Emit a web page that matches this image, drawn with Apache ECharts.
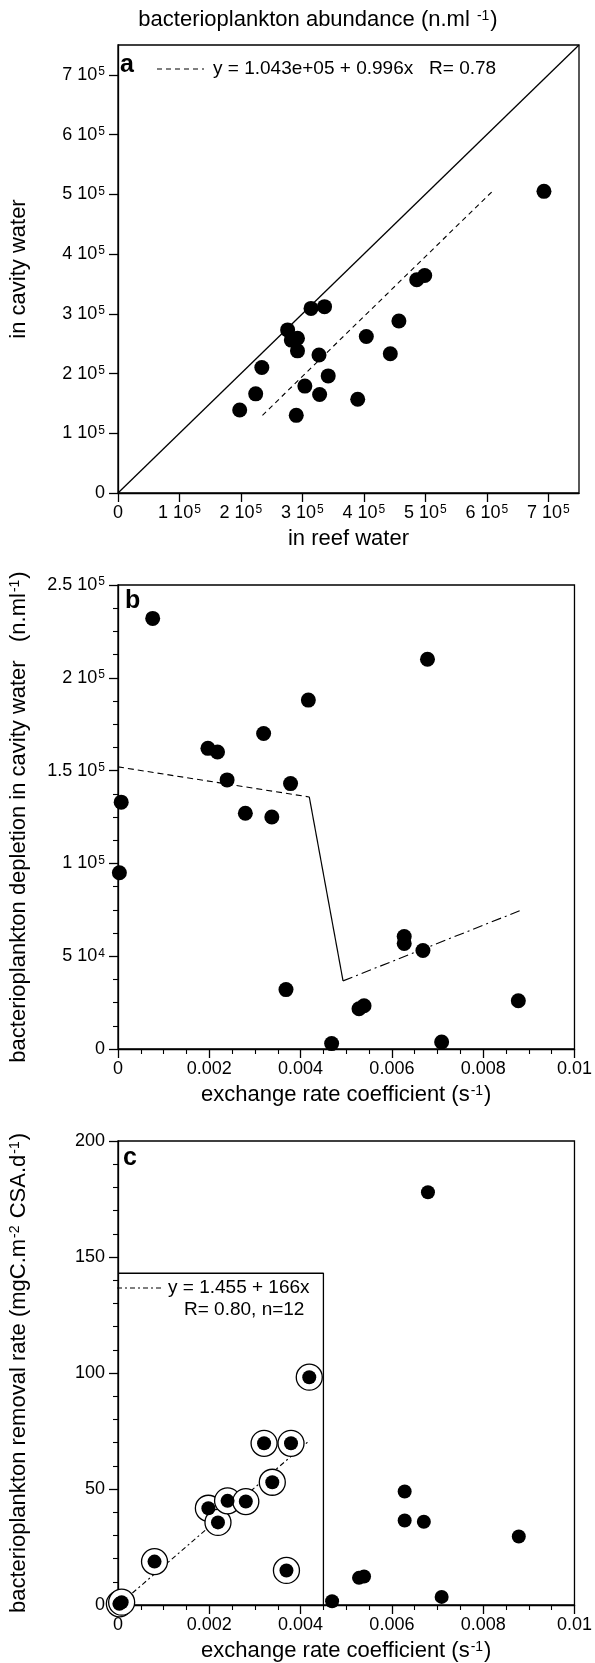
<!DOCTYPE html>
<html>
<head>
<meta charset="utf-8">
<script src="https://cdn.jsdelivr.net/npm/echarts@6/dist/echarts.min.js"></script>
<style>
  html, body { margin: 0; padding: 0; background: #fff; }
  #div_chart { width: 595px; height: 1663px; }
</style>
</head>
<body>
<div id="div_chart"></div>
<script>
"use strict";

//
// Data
//
// panel a: bacterioplankton abundance, reef water (x) vs cavity water (y)
const a_reef = [1.98e5, 2.24e5, 2.34e5, 2.76e5, 2.82e5, 2.92e5, 2.92e5, 2.90e5, 3.04e5, 3.14e5, 3.36e5,
  3.27e5, 3.28e5, 3.42e5, 3.90e5, 4.04e5, 4.43e5, 4.57e5, 4.86e5, 4.99e5, 6.93e5];
const a_cavity = [1.39e5, 1.66e5, 2.10e5, 2.73e5, 2.56e5, 2.59e5, 2.38e5, 1.30e5, 1.79e5, 3.09e5, 3.12e5,
  2.31e5, 1.65e5, 1.96e5, 1.57e5, 2.62e5, 2.33e5, 2.88e5, 3.57e5, 3.64e5, 5.05e5];
const a_fit_x = [2.35e5, 6.10e5];
const a_fit_y = [1.30e5, 5.06e5];
const a_one_x = [0, 7.5e5];
const a_one_y = [0, 7.5e5];
const a_tick_vals = [0, 1e5, 2e5, 3e5, 4e5, 5e5, 6e5, 7e5];
const a_tick_labels = ["0", "1 10^5", "2 10^5", "3 10^5", "4 10^5", "5 10^5", "6 10^5", "7 10^5"];

// panel b: depletion vs exchange rate coefficient
const b_rate = [0.00076, 0.00007, 0.00003, 0.00197, 0.00218, 0.00239, 0.00279, 0.00319, 0.00337, 0.00378, 0.00368,
  0.00417, 0.00468, 0.00528, 0.00539, 0.00627, 0.00627, 0.00668, 0.00678, 0.00709, 0.00877];
const b_depletion = [2.32e5, 1.33e5, 0.95e5, 1.62e5, 1.60e5, 1.45e5, 1.27e5, 1.70e5, 1.25e5, 1.43e5, 0.32e5,
  1.88e5, 0.029e5, 0.217e5, 0.233e5, 0.606e5, 0.569e5, 0.531e5, 2.10e5, 0.038e5, 0.26e5];
const b_fit1_x = [0, 0.00419];
const b_fit1_y = [1.52e5, 1.358e5];
const b_fit2_x = [0.00419, 0.00493];
const b_fit2_y = [1.358e5, 0.367e5];
const b_fit3_x = [0.00493, 0.00883];
const b_fit3_y = [0.367e5, 0.748e5];
const b_ytick_vals = [0, 5e4, 1e5, 1.5e5, 2e5, 2.5e5];
const b_ytick_labels = ["0", "5 10^4", "1 10^5", "1.5 10^5", "2 10^5", "2.5 10^5"];

// panel c: removal rate vs exchange rate coefficient (circled = used in fit)
const c_fit_rate = [0.00003, 0.00008, 0.00080, 0.00198, 0.00219, 0.00240, 0.00280, 0.00320, 0.00338, 0.00379, 0.00369, 0.00419];
const c_fit_removal = [0.5, 1.2, 18.7, 41.7, 35.6, 44.9, 44.6, 69.7, 52.9, 69.7, 14.9, 98.2];
const c_other_rate = [0.00469, 0.00528, 0.00539, 0.00628, 0.00628, 0.00670, 0.00679, 0.00709, 0.00878];
const c_other_removal = [1.6, 11.7, 12.3, 48.9, 36.4, 35.9, 177.9, 3.5, 29.5];
const c_fit_x = [0.0001, 0.0042];
const c_fit_y = [1.5, 71];
const c_box_x = [0, 0.0045, 0.0045];
const c_box_y = [143, 143, 0];
const c_ytick_vals = [0, 50, 100, 150, 200];
const c_ytick_labels = ["0", "50", "100", "150", "200"];

// shared x axis of b and c
const rate_tick_vals = [0, 0.002, 0.004, 0.006, 0.008, 0.01];
const rate_tick_labels = ["0", "0.002", "0.004", "0.006", "0.008", "0.01"];

//
// Helpers
//
const FONT = "'Liberation Sans', Arial, Helvetica, sans-serif";

function zip(xs, ys) {
  return xs.map((x, i) => [x, ys[i]]);
}

// "7 10^5" -> rich text with superscript
function tick_formatter(vals, labels) {
  return function (v) {
    const i = vals.findIndex(t => Math.abs(t - v) < 1e-9 * Math.max(1, Math.abs(t)));
    if (i < 0) return "";
    const parts = labels[i].split("^");
    if (parts.length === 1) return "{n|" + parts[0] + "}";
    return "{n|" + parts[0] + "}{s|" + parts[1] + "}";
  };
}

const rich_tick = {
  n: { fontSize: 18, fontFamily: FONT, color: "#000" },
  s: { fontSize: 12, fontFamily: FONT, color: "#000", verticalAlign: "top", padding: [0, 0, 0, 1] },
};
const rich_name = {
  t: { fontSize: 22, fontFamily: FONT, color: "#000" },
  s: { fontSize: 14, fontFamily: FONT, color: "#000", verticalAlign: "top", padding: [0, 1, 0, 1] },
};

function make_axis(grid, min, max, interval, vals, labels, minor, extra) {
  return Object.assign({
    type: "value",
    gridIndex: grid,
    min: min,
    max: max,
    interval: interval,
    axisLine: { show: true, onZero: false, lineStyle: { color: "#000", width: 1.3 } },
    axisTick: { show: true, inside: false, length: 9, customValues: vals, lineStyle: { color: "#000", width: 1.3 } },
    minorTick: { show: minor > 0, splitNumber: minor || 5, length: 5, lineStyle: { color: "#000", width: 1.1 } },
    axisLabel: {
      show: true,
      customValues: vals,
      formatter: tick_formatter(vals, labels),
      rich: rich_tick,
      margin: 13,
    },
    splitLine: { show: false },
    minorSplitLine: { show: false },
    nameLocation: "middle",
    nameTextStyle: { rich: rich_name, fontSize: 22, fontFamily: FONT, color: "#000" },
  }, extra);
}

function x_label(vals, labels) {
  return { customValues: vals, formatter: tick_formatter(vals, labels), rich: rich_tick, margin: 11 };
}

//
// Chart
//
const chart = echarts.init(document.getElementById("div_chart"), null, { renderer: "canvas" });

const grid_style = { show: true, borderColor: "#000", borderWidth: 1.3, backgroundColor: "transparent" };
const dot_style = { color: "#000", opacity: 1 };

chart.setOption({
  animation: false,
  backgroundColor: "#fff",
  textStyle: { fontFamily: FONT },
  grid: [
    Object.assign({ left: 117, top: 45, width: 462, height: 448 }, grid_style),
    Object.assign({ left: 117, top: 585, width: 463, height: 464 }, grid_style),
    Object.assign({ left: 117, top: 1141, width: 463, height: 464 }, grid_style),
  ],
  xAxis: [
    make_axis(0, 0, 7.5e5, 1e5, a_tick_vals, a_tick_labels, 0,
      { name: "{t|in reef water}", nameGap: 35, axisLabel: x_label(a_tick_vals, a_tick_labels) }),
    make_axis(1, 0, 0.01, 0.002, rate_tick_vals, rate_tick_labels, 4,
      { name: "{t|exchange rate coefficient (s}{s|-1}{t|)}", nameGap: 35, axisLabel: x_label(rate_tick_vals, rate_tick_labels) }),
    make_axis(2, 0, 0.01, 0.002, rate_tick_vals, rate_tick_labels, 4,
      { name: "{t|exchange rate coefficient (s}{s|-1}{t|)}", nameGap: 35, axisLabel: x_label(rate_tick_vals, rate_tick_labels) }),
  ],
  yAxis: [
    make_axis(0, 0, 7.5e5, 1e5, a_tick_vals, a_tick_labels, 0,
      { name: "{t|in cavity water}", nameGap: 88, nameRotate: 90 }),
    make_axis(1, 0, 2.5e5, 5e4, b_ytick_vals, b_ytick_labels, 4,
      { name: "{t|bacterioplankton depletion in cavity water   (n.ml}{s|-1}{t|)}", nameGap: 88, nameRotate: 90 }),
    make_axis(2, 0, 200, 50, c_ytick_vals, c_ytick_labels, 5,
      { name: "{t|bacterioplankton removal rate (mgC.m}{s|-2}{t| CSA.d}{s|-1}{t|)}", nameGap: 88, nameRotate: 90 }),
  ],
  series: [
    // panel a
    {
      type: "line", xAxisIndex: 0, yAxisIndex: 0, data: zip(a_one_x, a_one_y), symbol: "none",
      lineStyle: { color: "#000", width: 1.3 }, z: 2,
    },
    {
      type: "line", xAxisIndex: 0, yAxisIndex: 0, data: zip(a_fit_x, a_fit_y), symbol: "none",
      lineStyle: { color: "#000", width: 1.1, type: [5, 4] }, z: 2,
    },
    {
      type: "scatter", xAxisIndex: 0, yAxisIndex: 0, data: zip(a_reef, a_cavity), symbol: "circle",
      symbolSize: 15, itemStyle: dot_style, z: 3,
    },
    // panel b
    {
      type: "line", xAxisIndex: 1, yAxisIndex: 1, data: zip(b_fit1_x, b_fit1_y), symbol: "none",
      lineStyle: { color: "#000", width: 1.1, type: [6, 4] }, z: 2,
    },
    {
      type: "line", xAxisIndex: 1, yAxisIndex: 1, data: zip(b_fit2_x, b_fit2_y), symbol: "none",
      lineStyle: { color: "#000", width: 1.2 }, z: 2,
    },
    {
      type: "line", xAxisIndex: 1, yAxisIndex: 1, data: zip(b_fit3_x, b_fit3_y), symbol: "none",
      lineStyle: { color: "#000", width: 1.1, type: [10, 4, 2, 4] }, z: 2,
    },
    {
      type: "scatter", xAxisIndex: 1, yAxisIndex: 1, data: zip(b_rate, b_depletion), symbol: "circle",
      symbolSize: 15, itemStyle: dot_style, z: 3,
    },
    // panel c
    {
      type: "line", xAxisIndex: 2, yAxisIndex: 2, data: zip(c_box_x, c_box_y), symbol: "none",
      lineStyle: { color: "#000", width: 1.3 }, z: 2,
    },
    {
      type: "line", xAxisIndex: 2, yAxisIndex: 2, data: zip(c_fit_x, c_fit_y), symbol: "none",
      lineStyle: { color: "#000", width: 1.1, type: [5, 3, 2, 3] }, z: 2,
    },
    {
      type: "scatter", xAxisIndex: 2, yAxisIndex: 2, data: zip(c_fit_rate, c_fit_removal), symbol: "circle",
      symbolSize: 26, itemStyle: { color: "#fff", opacity: 1, borderColor: "#000", borderWidth: 1.3 }, z: 3,
    },
    {
      type: "scatter", xAxisIndex: 2, yAxisIndex: 2, data: zip(c_fit_rate, c_fit_removal), symbol: "circle",
      symbolSize: 14, itemStyle: dot_style, z: 4,
    },
    {
      type: "scatter", xAxisIndex: 2, yAxisIndex: 2, data: zip(c_other_rate, c_other_removal), symbol: "circle",
      symbolSize: 14, itemStyle: dot_style, z: 4,
    },
  ],
  graphic: [
    // figure title
    {
      type: "text", x: 318, y: 20,
      style: {
        text: "{t|bacterioplankton abundance (n.ml }{s|-1}{t|)}", rich: rich_name,
        align: "center", verticalAlign: "middle", textAlign: "center", textVerticalAlign: "middle",
      },
    },
    // panel letters
    { type: "text", x: 120, y: 65, style: { text: "a", font: "bold 25px " + FONT, fill: "#000", verticalAlign: "middle", textVerticalAlign: "middle" } },
    { type: "text", x: 125, y: 601, style: { text: "b", font: "bold 25px " + FONT, fill: "#000", verticalAlign: "middle", textVerticalAlign: "middle" } },
    { type: "text", x: 123, y: 1158, style: { text: "c", font: "bold 25px " + FONT, fill: "#000", verticalAlign: "middle", textVerticalAlign: "middle" } },
    // legend panel a
    { type: "line", shape: { x1: 157, y1: 69, x2: 204, y2: 69 }, style: { stroke: "#000", lineWidth: 1.1, lineDash: [5, 4] } },
    { type: "text", x: 213, y: 69, style: { text: "y = 1.043e+05 + 0.996x   R= 0.78", font: "19px " + FONT, fill: "#000", verticalAlign: "middle", textVerticalAlign: "middle" } },
    // legend panel c
    { type: "line", shape: { x1: 117, y1: 1288, x2: 163, y2: 1288 }, style: { stroke: "#000", lineWidth: 1.1, lineDash: [5, 3, 2, 3] } },
    { type: "text", x: 168, y: 1288, style: { text: "y = 1.455 + 166x", font: "19px " + FONT, fill: "#000", verticalAlign: "middle", textVerticalAlign: "middle" } },
    { type: "text", x: 184, y: 1310, style: { text: "R= 0.80, n=12", font: "19px " + FONT, fill: "#000", verticalAlign: "middle", textVerticalAlign: "middle" } },
  ],
});
</script>
</body>
</html>
